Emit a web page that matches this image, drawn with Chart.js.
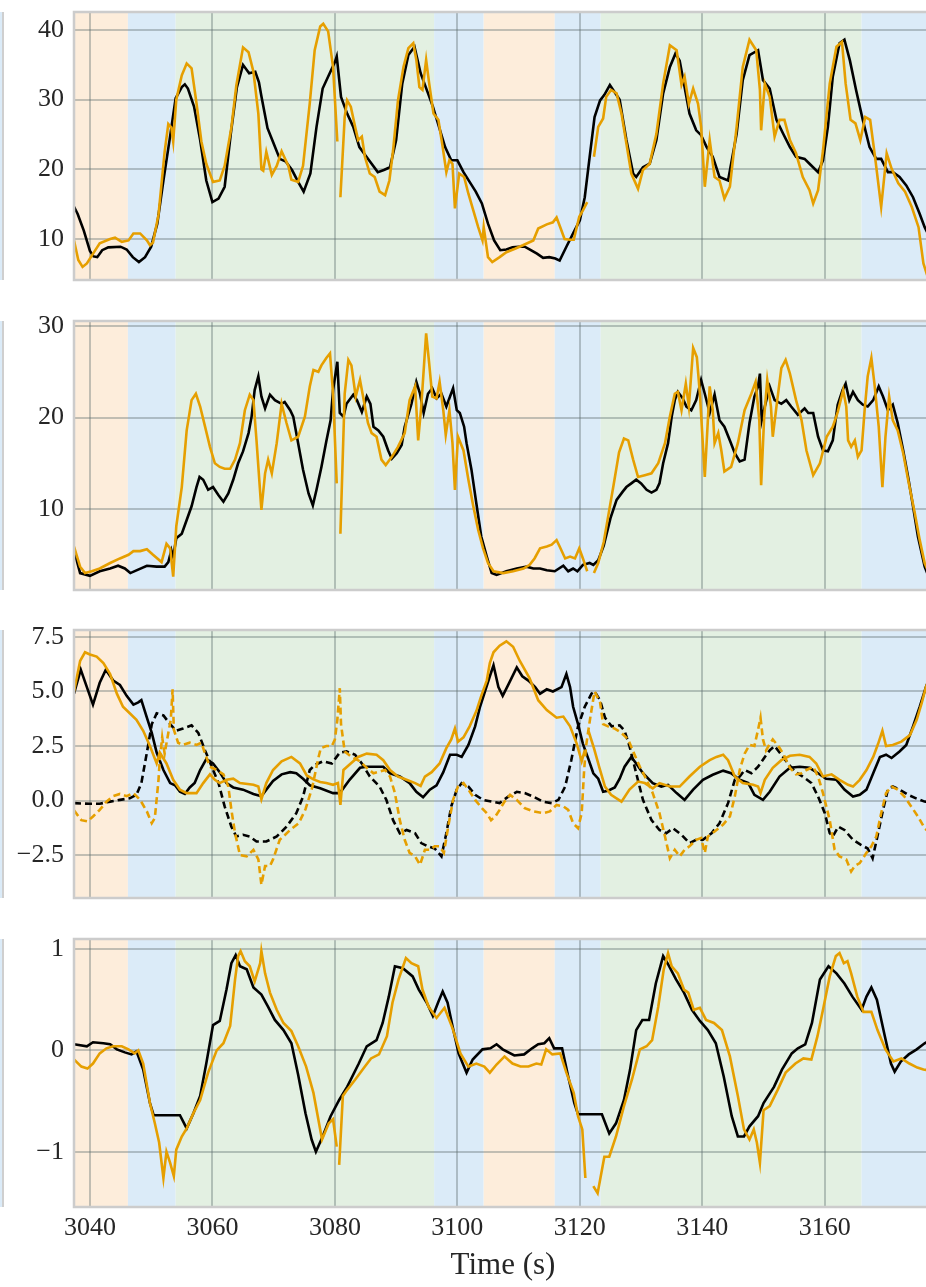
<!DOCTYPE html>
<html>
<head>
<meta charset="utf-8">
<script src="https://cdn.jsdelivr.net/npm/chart.js@4.4.1/dist/chart.umd.min.js"></script>
<style>
  html, body { margin: 0; padding: 0; background: #fff; overflow: hidden; }
  body { width: 926px; height: 1287px; position: relative; }
  canvas { position: absolute; left: 0; }
  .edge { position: absolute; left: 0; width: 2px; background: #dbebf8; border-right: 2px solid #cfcfcf; }
</style>
</head>
<body>
<div class="edge" style="top:12px;height:268px"></div>
<div class="edge" style="top:321px;height:269px"></div>
<div class="edge" style="top:630px;height:268px"></div>
<div class="edge" style="top:939px;height:268px"></div>
<canvas id="c1" width="932" height="291" style="top:-8px"></canvas>
<canvas id="c2" width="932" height="292" style="top:301px"></canvas>
<canvas id="c3" width="932" height="291" style="top:610px"></canvas>
<canvas id="c4" width="932" height="368" style="top:919px"></canvas>
<script>
// shaded phases along the time axis
const bandEdges = [3037.4, 3046.2, 3054.0, 3096.2, 3104.3, 3115.9, 3123.4, 3166.0, 3178];
const bandKinds = ['stand', 'walk', 'run', 'walk', 'stand', 'walk', 'run', 'walk'];
const bandColors = { stand: '#fdeddb', walk: '#dbebf8', run: '#e3f0e2' };

const timeMin = 3037.4, timeMax = 3177.5;
const timeTicks = [3040, 3060, 3080, 3100, 3120, 3140, 3160];
const p1Ticks = [10, 20, 30, 40];
const p2Ticks = [10, 20, 30];
const p3Ticks = [-2.5, 0, 2.5, 5, 7.5];
const p4Ticks = [-1, 0, 1];

// panel 1
const p1RefT = [3037.3,3038,3039,3040,3040.6,3041.2,3042,3043,3045,3046,3047,3048,3049,3050,3051,3052,3053,3054,3055,3055.5,3056,3057,3058,3059,3060,3061,3062,3063,3064,3065,3066,3067,3067.6,3068,3069,3070,3071,3072,3073,3074,3074.9,3076,3077,3078,3079,3080,3080.3,3081,3082,3083,3084,3085,3086,3087,3088,3089,3090,3091,3092,3093,3094,3095,3096,3097,3098,3099,3100,3101,3102,3103,3104,3105,3106,3107,3108,3109,3110,3111,3112,3113,3114,3115,3116,3116.7,3117.8,3118.9,3120,3120.8,3121.6,3122.4,3123.3,3124,3124.9,3126.5,3127.6,3128.7,3129.2,3130.3,3131.4,3132.5,3133.6,3134.7,3135.6,3136.3,3137.1,3137.9,3139,3139.8,3140.7,3141.7,3142.8,3144.2,3145.6,3146.6,3147.7,3149.1,3149.9,3151,3152.1,3153.2,3154.3,3155.3,3156.7,3157.5,3158.9,3159.7,3160.5,3161.3,3162.4,3163.2,3164.1,3165.1,3166.2,3167.3,3168.4,3169.2,3170.3,3171.1,3172.2,3173.3,3174.4,3175.5,3176.3,3177.1];
const p1RefV = [14.8,13.6,11.2,8.3,7.5,7.4,8.4,8.8,8.9,8.5,7.4,6.7,7.4,8.9,12.2,18.4,24.2,30.2,31.8,32.2,31.6,29,24.2,18.4,15.3,15.8,17.5,25.1,31.8,35,33.8,34,32.5,30.5,25.9,23.7,21.5,21.1,19.9,18.2,16.8,19.4,26.1,31.6,33.5,35.4,36.2,30.4,28,26.1,23.2,22,20.8,19.6,19.9,20.3,24.2,32.3,36.4,37.6,33.8,31.4,29,26.1,23.2,21.3,21.3,19.6,18.2,16.8,15.1,12.2,9.8,8.4,8.5,8.8,8.9,8.9,8.4,7.9,7.3,7.4,7.2,6.9,8.9,10.8,12.7,16,21.8,27.5,29.9,30.7,32.1,30,24.2,19.4,18.9,20.3,20.8,24.2,30.9,34.7,36.6,35.6,31.8,28,25.6,24.9,23.2,21.8,18.9,18.4,25.1,32.8,36.4,37.1,32.8,31.6,27.1,25.1,23.2,21.8,21.5,20.8,19.6,21.3,26.1,33.3,38.1,38.6,35.6,31.4,27.1,23.2,21.5,21.5,19.6,19.6,18.9,17.7,16,13.6,11.7,10.3];
const p1EstT = [3037.4,3038.1,3038.8,3039.5,3040.8,3041.6,3043.3,3044.1,3045.2,3046.3,3047.1,3048.2,3049.3,3049.8,3050.3,3051.2,3052.2,3052.8,3053.3,3053.6,3054.1,3055,3055.8,3056.6,3057.4,3058.2,3059,3060.1,3061.2,3062,3063.1,3063.9,3065,3065.9,3066.7,3067.5,3068,3068.3,3068.8,3069.7,3070.5,3071.3,3072.4,3072.9,3074,3074.8,3075.9,3076.7,3077.6,3078.1,3078.9,3079.7,3080.4,3080.6,3080.9,3081.6,3082,3082.6,3083.3,3083.8,3084.4,3084.9,3085.7,3086.5,3087.3,3088.2,3088.9,3089.5,3090.3,3091.2,3092,3092.8,3093.3,3093.8,3094.3,3094.9,3095.4,3096.1,3096.9,3097.6,3098.2,3098.7,3099.2,3099.6,3100.3,3101.1,3101.8,3102.6,3103.4,3104.1,3104.3,3105,3105.7,3106.9,3108,3109.4,3110.7,3112.4,3113.2,3114.6,3115.6,3116.2,3116.8,3117.5,3118.4,3119,3119.9,3120.5,3121.2,3121.7,3122.3,3123,3123.8,3124.3,3125.1,3126,3126.8,3127.6,3128.4,3129.5,3130.3,3131.4,3132.5,3133.6,3134.7,3135.8,3136.6,3137.1,3137.8,3138.5,3139.3,3139.8,3140.4,3141.2,3142,3142.8,3143.6,3144.5,3145.6,3146.6,3147.7,3148.8,3149.4,3149.6,3150.2,3151,3151.8,3152.6,3153.4,3154.3,3155.3,3156.4,3157.5,3158.1,3158.9,3159.7,3160.8,3161.9,3162.8,3163.4,3164.2,3165,3165.8,3166.6,3167.4,3168.2,3169.2,3170.1,3170.9,3172,3173.1,3174.2,3175.3,3176.1,3177];
const p1EstV = [9.8,7,6,6.5,8.3,9.4,10,10.2,9.6,9.8,10.8,10.8,9.8,9.1,9.5,13.5,22.5,26.5,26,24,30,33.5,35.2,34.5,29.5,24,20.8,18.2,18.4,20.5,26,32,37.5,36.8,34,28,20,19.8,22.5,19.2,20.5,22.6,20.5,18.5,18.2,20.5,29.5,37.1,40.5,40.9,39.8,34.7,24,null,16,27.5,29.9,29,26.1,24.2,24.7,21.8,19.4,18.9,16.8,16.3,18.4,22.7,29.9,34.7,37.4,38.1,35.7,31.8,31.4,35.7,32.3,28,27.1,23.2,19.6,21.3,20.8,14.4,19.4,18.9,16.5,14.1,11.7,9.8,11.7,7.4,6.7,7.4,8.1,8.6,9.1,9.8,11.5,12.1,12.4,13.1,11.7,10,9.9,9.9,13.2,14.1,15.3,null,21.8,26.1,27.3,30.4,31.4,30.9,28,23.7,19.4,17.2,19.9,20.8,25.1,32.3,37.8,37.1,32.1,33.3,29.4,31.6,29.4,26.1,17.5,24.2,18.9,18.4,15.8,17.5,26.1,34.7,38.6,37.1,31.4,25.6,32.3,30.4,24.7,27.1,27.1,24.2,22.3,18.9,17,15.1,17,22.7,32.3,37.6,38.3,32.3,27.1,26.6,24.2,27.5,27.1,21.8,14.6,22.3,20.1,18,16.8,14.6,11.7,6.5,4];

// panel 2
const p2RefT = [3037.4,3038.4,3040,3041.6,3043.3,3044.6,3045.7,3046.6,3047.6,3049.3,3050.9,3052.2,3052.8,3053.3,3053.6,3054.1,3055,3055.8,3056.6,3057.4,3057.9,3058.5,3059.3,3060.1,3061,3061.8,3062.6,3063.4,3064.2,3065,3065.9,3066.4,3066.9,3067.5,3068,3068.6,3069.4,3070.2,3071.3,3071.8,3072.7,3073.2,3074,3074.8,3075.7,3076.4,3077,3077.8,3078.6,3079.3,3079.7,3080.4,3080.8,3081.4,3081.9,3083,3083.6,3084.4,3085.2,3085.8,3086.3,3087.1,3087.9,3088.7,3089.3,3090.1,3090.9,3091.4,3092.5,3093.3,3093.9,3094.5,3095.2,3095.9,3096.6,3097.4,3098.2,3098.8,3099.3,3099.9,3100.4,3101.1,3101.5,3102.3,3103.1,3103.9,3104.8,3105.6,3106.4,3108,3109.7,3111.3,3112.4,3113.5,3114.6,3115.9,3117.3,3118.1,3118.9,3119.6,3120.5,3121.6,3122.2,3123,3123.9,3125,3126,3127,3127.6,3128.4,3129.2,3130,3130.9,3131.7,3132.5,3133,3133.6,3134.4,3135,3135.5,3136,3136.8,3137.4,3138.2,3139,3139.8,3140.4,3141.2,3142,3142.8,3143.6,3144.5,3145.3,3146.1,3146.9,3147.7,3148.5,3149.1,3149.4,3149.7,3150.2,3151,3151.8,3152.9,3153.7,3154.5,3155.6,3156.7,3157.3,3158.1,3158.9,3159.7,3160.5,3161.3,3162.1,3162.9,3163.4,3164,3164.6,3165.4,3166.2,3167,3167.9,3168.8,3169.5,3170.3,3171.1,3171.9,3172.8,3173.6,3174.4,3175.2,3176.3,3177];
const p2RefV = [5.5,3,2.7,3.2,3.5,3.8,3.5,3,3.3,3.8,3.7,3.7,4.2,5.5,4.8,6.8,7.3,8.8,10.3,12.4,13.5,13.2,12.1,12.4,11.5,10.8,11.7,13.2,15,16.3,18.3,20.1,23,24.5,22.3,21,22.5,21.9,21.5,21.7,20.8,20.1,17.2,14.3,11.7,10.4,12.1,14.6,17.4,19.7,23,26.1,20.5,20.1,21.5,22.5,21.9,20.6,22.3,21.5,19,18.6,17.9,16.4,15.5,16.1,17,19,21.5,23.9,22.6,20.5,22.6,23.2,22.1,22.6,21.2,22.3,23.2,20.8,20.5,19,17.2,14.3,10.6,7,4.8,3,2.8,3.2,3.5,3.7,3.5,3.5,3.3,3.2,3.8,3.2,3.5,3.2,3.9,4.1,3.9,4.4,6,9,11,11.9,12.4,12.8,13.2,12.8,12.1,11.8,12.1,12.8,15,17.2,20.1,21.9,22.8,22.1,21.2,20.8,21.9,24.1,22.6,20.5,22.5,19.7,19,17.5,16.1,15.2,15.4,19.4,22.3,23.4,24.8,19.7,21.2,23.4,21.9,21.5,21.9,21.2,20.3,21,20.5,20.5,17.9,16.4,16.3,17.5,21.4,23,23.7,21.9,22.8,21.9,21.4,21.2,21.9,23.4,22.3,20.8,21.4,19.4,16.4,13.5,10.3,7,3.7,2.5];
const p2EstT = [3037.4,3038.4,3039.2,3040.3,3041.6,3043.3,3044.9,3046.3,3047.1,3048.2,3049.3,3050.3,3051.7,3052.5,3053.1,3053.6,3054.1,3055,3055.8,3056.6,3057.3,3058,3058.8,3059.6,3060.4,3061.2,3062,3062.9,3063.7,3064.5,3065.3,3066.1,3066.7,3067.2,3068,3068.6,3069.1,3069.7,3070.5,3071.3,3072.1,3072.9,3074,3075.1,3075.9,3076.5,3077.3,3077.8,3078.6,3079.2,3079.7,3080.3,3080.6,3080.9,3081.6,3082.2,3082.7,3083.4,3084.1,3084.6,3085.4,3086,3086.8,3087.6,3088.3,3089.3,3090.3,3091.4,3092.2,3093.1,3093.6,3094.1,3094.9,3095.4,3095.9,3096.6,3097.1,3097.7,3098.1,3098.7,3099.2,3099.6,3100.1,3101,3101.8,3102.6,3103.4,3104.2,3105,3105.9,3107.5,3109.1,3110.8,3111.8,3112.6,3113.5,3114.6,3115.4,3116.2,3116.7,3117.6,3118.4,3119.2,3119.9,3120.5,3121.2,3121.7,3122.3,3123,3123.9,3124.7,3125.5,3126.4,3127.2,3127.9,3128.7,3129.5,3130.6,3131.7,3132.8,3133.9,3134.7,3135.5,3136,3136.6,3137.3,3137.8,3138.5,3139.1,3139.6,3140.4,3141.2,3141.7,3142,3142.6,3143.1,3143.6,3144.7,3145.8,3146.9,3148,3148.7,3149.3,3149.6,3150.1,3150.6,3151.2,3151.5,3152.1,3152.9,3153.6,3154.3,3155.3,3156.2,3157,3158.1,3159.2,3160.3,3161.3,3162.1,3163,3163.5,3163.8,3164.3,3164.9,3165.4,3166,3166.5,3167,3167.6,3168.1,3168.8,3169.4,3169.9,3170.5,3171.1,3171.9,3172.8,3173.6,3174.7,3175.5,3176.3,3177];
const p2EstV = [5.9,3.7,3,3.2,3.5,4.1,4.6,5,5.4,5.4,5.6,5,4.2,6.2,5.7,2.6,8.1,12.4,18.6,21.9,22.6,21.2,19,16.8,15,14.6,14.4,14.4,15.4,17.2,20.8,22.5,21.9,17.5,9.9,13.9,15.4,13.9,17.2,21.5,19.4,17.5,17.9,20.1,23.4,25.2,25,25.7,26.5,27,22.6,12.8,null,7.3,22.6,26.3,25.7,22.3,24.1,22.3,19.4,18.3,17.9,15.4,14.8,15.7,16.8,18.3,21.9,23.4,17.5,21.2,29.2,25.9,22.3,22.1,23.9,20.8,18.1,20.8,17.2,12.1,17.9,16.4,13.2,10.3,7.7,5.7,4.1,3.2,3,3.2,3.5,3.9,4.6,5.7,5.9,6.1,6.6,5.9,4.6,4.8,4.6,5.7,4.6,3.2,null,3,4.1,6.4,9.5,12.6,16.2,17.7,17.5,15.4,13.5,13.7,13.9,15,17.2,20.1,22.6,22.8,20.8,23.7,21.2,27.6,26.6,22.6,13.5,23.4,20.8,17.2,18.3,16.4,14.1,14.6,17.2,20.8,22.6,23.9,19.7,12.6,20.1,24.1,21.2,17.9,21.2,25.4,26.3,24.8,21.9,19.7,16.4,13.7,15,17.9,19,20.6,23,21.2,17.5,16.8,17.5,15.7,16.4,20.8,24.5,26.5,23.7,19,12.4,17.9,22.3,19.7,18.6,16.1,13.2,9.5,6.6,4.1,3];

// panel 3 (solid and dashed pairs)
const p3RefT = [3037.4,3038.5,3039.5,3040.5,3041.6,3042.6,3043.8,3044.9,3046,3047.1,3047.9,3048.4,3049.3,3050.1,3050.9,3052,3053.1,3053.9,3054.7,3055.5,3056.3,3057.1,3058,3059,3060.1,3061.2,3062.3,3063.4,3065,3066.7,3068,3068.8,3069.9,3071.3,3072.7,3073.7,3074.8,3075.9,3077.6,3079.7,3080.8,3082.4,3084.1,3085.2,3087.9,3089,3090.6,3092.2,3093.3,3094.4,3095.5,3096.6,3097.7,3098.8,3099.9,3100.7,3101.8,3102.9,3103.7,3104.5,3105.3,3105.9,3106.7,3107.4,3108.3,3109.7,3110.6,3111.6,3112.7,3113.5,3114.6,3115.6,3117,3117.8,3118.4,3118.9,3119.7,3120.5,3121.4,3122.2,3123,3123.8,3124.6,3125.7,3126.5,3127.3,3128.4,3129.2,3130.3,3131.9,3133.3,3134.4,3135.8,3137.1,3138.5,3140.1,3141.7,3143.4,3144.7,3146.1,3147.5,3148.5,3149.9,3151,3152.6,3154.3,3155.9,3157.5,3158.9,3160.2,3161.9,3163.2,3164.6,3165.7,3166.8,3167.9,3169,3170,3170.9,3172.2,3173.3,3174.4,3175.5,3176.5,3177.2];
const p3RefV = [4.9,6,5.2,4.4,5.4,6,5.5,5.3,4.8,4.4,4.5,4.6,3.8,3.1,2.2,1.4,0.8,0.7,0.4,0.3,0.6,0.8,1.4,1.9,1.7,1.3,0.8,0.6,0.5,0.3,0.2,0.5,0.9,1.2,1.3,1.25,1,0.7,0.56,0.34,0.34,0.95,1.5,1.55,1.55,1.25,1.1,0.8,0.4,0.15,0.5,0.7,1.3,2.1,2.1,2,2.55,3.4,4.3,5,5.7,6.2,5.2,4.8,5.3,6.1,5.7,5.5,5.2,4.9,5.1,5,5.2,5.8,5.2,4.3,3.5,2.6,1.9,1.25,1,0.4,0.45,0.6,1,1.55,2,1.7,1.25,0.8,0.64,0.72,0.34,0.03,0.5,0.95,1.18,1.37,1.25,0.95,0.8,0.26,0.03,0.4,1.1,1.5,1.55,1.5,1.25,1,0.95,0.5,0.18,0.26,0.5,1.25,2,2.1,1.95,2.25,2.55,3.4,4.3,5.2,5.7];
const p3EstT = [3037.4,3038.4,3039.2,3040,3041.1,3042.2,3043.3,3044.4,3045.4,3046.5,3047.6,3048.7,3049.8,3050.9,3051.4,3052.5,3053.6,3054.7,3055.8,3057.4,3058.5,3059.6,3060.4,3061.2,3062.3,3063.4,3064.5,3066.7,3067.5,3068,3068.8,3069.9,3071.3,3072.9,3074.3,3075.4,3076.5,3077.6,3078.6,3079.7,3080.5,3080.9,3081.4,3082.4,3083.8,3085.2,3086.8,3087.9,3089,3090.3,3091.7,3093.1,3094,3094.7,3095.8,3097.1,3098.2,3099,3099.6,3100.1,3101,3102,3103.1,3103.9,3104.8,3105.3,3105.9,3106.9,3108,3109.1,3110.2,3111.8,3113.2,3114.6,3116.2,3117.3,3118.4,3119.5,3120.3,3120.8,3121.1,3121.4,3122.3,3123.2,3124.1,3125.1,3126.8,3128.1,3129.5,3130.6,3131.9,3133,3134.7,3136.3,3137.9,3139.6,3141.2,3142.3,3143.4,3144.2,3145.3,3146.6,3148.3,3149.1,3149.5,3150.2,3151.5,3152.9,3154.3,3155.9,3157.5,3158.6,3159.7,3161.1,3162.4,3163.8,3164.6,3165.7,3166.8,3167.9,3168.7,3169.4,3170,3171.1,3172.5,3173.9,3175,3175.8,3176.5,3177.2];
const p3EstV = [5,6.4,6.8,6.7,6.6,6.3,5.8,4.9,4.3,4,3.7,3.2,2.5,1.7,2.2,1.7,0.95,0.5,0.34,0.34,0.8,1.2,0.95,0.8,0.95,1,0.8,0.72,0.64,0.06,0.8,1.4,1.8,2,1.7,1.15,0.97,0.85,0.8,0.72,0.8,-0.2,1.4,1.65,2,2.15,2.1,1.85,1.4,1.1,0.95,0.8,0.67,1.1,1.3,1.7,2.4,2.8,3.3,2.7,2.9,3.4,4.1,4.8,5.5,6.3,6.8,7.1,7.3,7.05,6.4,5.6,4.6,4.15,3.8,3.85,3.4,2.6,1.8,2.3,null,3.2,2.4,1.5,0.64,0.26,-0.05,0.5,0.87,0.8,0.56,0.8,0.64,0.64,1.1,1.55,1.85,2,2.1,1.85,1.1,0.8,0.72,0.64,0.34,0.95,1.5,1.85,2.05,2.1,2,1.7,1.1,1.2,0.95,0.72,0.64,0.95,1.4,2,2.6,3.2,2.5,2.55,2.7,3,3.7,4.45,5.2,5.7];
const p3RefDashT = [3037.4,3040,3041.6,3043.3,3044.9,3046.5,3047.6,3048.4,3049.3,3050.1,3050.9,3052,3053.1,3054.1,3055.2,3056.6,3057.7,3058.8,3059.9,3061,3062,3063.1,3063.9,3065,3066.1,3067.2,3068.8,3070.5,3072.1,3073.7,3074.8,3075.9,3076.7,3078.1,3079.5,3080.8,3081.9,3083.3,3084.4,3085.7,3087.3,3088.4,3089.5,3090.6,3091.7,3093.1,3094.1,3095.2,3096.3,3097.4,3098.2,3099,3099.9,3100.7,3101.8,3102.9,3104.2,3105.6,3106.9,3108.3,3109.7,3111,3112.4,3114,3115.4,3116.5,3117.6,3118.6,3119.7,3120.8,3121.9,3122.4,3123.3,3124.1,3125.2,3126.5,3127.3,3128.1,3129.2,3130.3,3131.7,3133,3134.1,3135.2,3136.6,3137.9,3139,3140.1,3141.5,3142.8,3144.2,3145.3,3146.1,3146.9,3148,3149.1,3150.2,3151,3151.8,3152.9,3154,3155.1,3156.4,3157.8,3158.9,3160,3160.8,3161.3,3162.2,3163.2,3164.6,3165.9,3167,3167.8,3168.7,3169.5,3170.3,3171.1,3172.2,3173.6,3174.9,3176.3,3177.2];
const p3RefDashV = [-0.12,-0.15,-0.15,-0.05,0.03,0.1,0.26,0.8,2.2,3.5,4,3.9,3.5,3.2,3.3,3.45,3.1,2.3,1.55,0.8,-0.27,-1.2,-1.65,-1.57,-1.65,-1.88,-1.88,-1.65,-1.2,-0.58,0.18,1.4,1.63,1.8,1.7,2.2,2.25,2.1,1.7,1.1,0.64,0.03,-0.9,-1.5,-1.35,-1.5,-1.95,-2.1,-2.2,-2.56,-1.5,-0.27,0.5,0.8,0.64,0.26,0.03,-0.05,-0.12,0.18,0.4,0.34,0.18,-0.05,-0.12,0.03,0.64,1.85,3.4,4.3,4.9,5,4.6,3.8,3.4,3.45,3.2,2.5,1.25,0.03,-0.9,-1.35,-1.5,-1.27,-1.57,-1.95,-1.8,-1.8,-1.5,-1.04,-0.12,0.95,1.1,1.4,1.25,1.55,2,2.3,2.5,2.1,1.7,1.33,1.1,0.8,0.18,-0.58,-1.5,-1.65,-1.2,-1.35,-1.8,-2.03,-2.2,-2.65,-1.5,-0.43,0.5,0.64,0.5,0.26,0.1,-0.05,-0.1];
const p3EstDashT = [3037.4,3038.6,3039.6,3040.5,3041.6,3042.7,3043.8,3044.9,3046,3047.1,3048.2,3049.3,3050.1,3050.6,3051.2,3051.4,3051.8,3052.2,3052.8,3053.2,3053.5,3053.7,3054.4,3055.2,3056.3,3057.4,3058.2,3058.8,3059.6,3060.7,3061.8,3062.6,3063.1,3063.7,3064.5,3065.6,3066.7,3067.5,3068,3068.6,3069.4,3069.9,3071,3072.7,3074.1,3075.2,3076.3,3077.3,3077.7,3078.6,3079.5,3080,3080.4,3080.8,3081,3081.6,3082.7,3084.1,3085.2,3086.3,3087.3,3088.2,3089,3089.8,3090.6,3091.4,3092.2,3093.1,3093.9,3094.7,3095.5,3096.3,3097.1,3097.8,3098.5,3099.3,3100.1,3101,3101.8,3102.9,3104,3104.8,3105.5,3106.2,3106.9,3107.7,3108.6,3109.7,3111,3112.4,3114,3115.1,3116.2,3117.3,3118.1,3118.9,3119.7,3120.3,3120.7,3121,3121.7,3122.4,3123.3,3123.8,3124.6,3125.7,3126.8,3127.9,3128.7,3129.8,3130.9,3131.9,3133,3133.9,3134.7,3135.5,3136.3,3137.1,3137.9,3139,3139.8,3140.4,3140.9,3142,3143.4,3144.5,3145.3,3146.1,3146.9,3147.7,3148.5,3149.1,3149.5,3149.9,3150.4,3151,3151.5,3152.4,3153.2,3154.3,3155.3,3156.2,3157,3158.1,3158.9,3159.7,3160.8,3161.6,3162.4,3163.5,3164.3,3164.9,3165.7,3166.8,3167.6,3168.4,3169.2,3170,3170.9,3171.9,3173,3174.1,3175.2,3176.3,3177.2];
const p3EstDashV = [-0.45,-0.9,-0.96,-0.73,-0.43,-0.05,0.2,0.3,0.2,0.34,0.03,-0.5,-1.04,-0.8,0.95,1.85,2.9,2.15,3.1,3.7,5.1,3.25,2.65,2.55,2.65,2.55,2.65,2.15,1.55,1.4,1.2,0.64,-0.43,-1.5,-2.5,-2.56,-2.26,-2.7,-3.86,-3,-3,-2.7,-1.8,-1.35,-1.04,-0.4,0.6,1.95,2.4,2.5,2.5,2.8,3.7,5.15,3.5,2.25,2,1.8,1.5,1.25,1.33,1.4,1.1,0.34,-0.9,-1.8,-2.4,-2.56,-2.95,-2.26,-2.26,-2.1,-2.1,-2.4,-1.2,0.03,0.64,0.8,0.5,0.03,-0.35,-0.58,-0.9,-0.73,-0.43,-0.05,0.26,0.03,-0.35,-0.5,-0.58,-0.5,-0.2,-0.27,-0.43,-1.04,-1.27,-0.58,1.4,2.47,3.8,5,4.5,3.5,3.4,3.3,3.1,2.8,2.25,1.55,0.95,0.34,-0.58,-1.65,-2.65,-2.26,-2.56,-2.26,-2.1,-1.8,-1.72,-2.4,-1.65,-1.42,-1.1,-0.73,0.18,1.4,2.15,2.55,2.5,3.25,3.8,2.8,2.3,2.6,2.8,2.5,2.15,1.5,1.2,1.25,1.4,1.55,1.1,0.34,-0.9,-2.26,-2.56,-2.7,-3.25,-3,-2.87,-2.4,-2.1,-1.65,-0.58,0.34,0.64,0.5,0.18,-0.27,-0.73,-1.27,-1.5];

// panel 4
const p4RefT = [3037.4,3039.5,3040.5,3042.2,3043.3,3044.4,3045.7,3046.8,3047.6,3048.7,3049.8,3050.4,3054.7,3055.8,3056.9,3058,3059,3060.1,3061.2,3062.3,3063.1,3063.8,3064.5,3065.6,3066.7,3068,3069.1,3070.2,3071.6,3072.9,3074,3075.2,3076.2,3076.9,3078,3079.3,3080.7,3082,3083.9,3085.2,3086.8,3087.8,3088.8,3089.8,3091.1,3092.7,3093.7,3095,3096,3096.9,3097.6,3098.4,3099.2,3100.2,3101.5,3102.5,3104.1,3105.4,3106.4,3107.4,3109.3,3110.9,3112.2,3113.2,3114.2,3115,3115.8,3117.1,3118.1,3119.1,3119.7,3123.6,3124.8,3125.9,3127.2,3128.2,3129.2,3130.2,3131.3,3132.4,3133.6,3134.4,3135.7,3137,3138.3,3139.6,3140.9,3142.2,3143.5,3144.8,3145.8,3146.8,3147.7,3149.1,3150,3151.7,3153,3154.6,3155.6,3156.8,3157.9,3159.2,3160.6,3161.9,3163.2,3164.5,3166,3166.8,3167.6,3168.5,3169.8,3170.8,3171.4,3172.4,3173.7,3175,3176.3,3177.2];
const p4RefV = [0.06,0.04,0.08,0.07,0.06,0.01,-0.02,-0.04,-0.01,-0.19,-0.52,-0.64,-0.64,-0.77,-0.62,-0.45,-0.13,0.25,0.29,0.6,0.86,0.94,0.83,0.8,0.62,0.55,0.43,0.3,0.2,0.07,-0.24,-0.62,-0.88,-1,-0.85,-0.65,-0.49,-0.36,-0.13,0.04,0.1,0.27,0.53,0.83,0.81,0.73,0.6,0.47,0.34,0.48,0.58,0.47,0.24,-0.03,-0.22,-0.09,0.01,0.02,0.06,0.01,-0.05,-0.04,0.02,0.06,0.07,0.12,0.02,0.02,-0.26,-0.52,-0.63,-0.63,-0.82,-0.72,-0.49,-0.19,0.2,0.3,0.3,0.66,0.93,0.85,0.7,0.57,0.4,0.29,0.2,0.07,-0.26,-0.65,-0.85,-0.85,-0.75,-0.65,-0.52,-0.36,-0.19,-0.03,0.02,0.06,0.27,0.7,0.83,0.76,0.66,0.53,0.4,0.53,0.62,0.5,0.14,-0.13,-0.21,-0.11,-0.04,0.01,0.07,0.1];
const p4EstT = [3037.4,3038.6,3039.6,3040.5,3041.6,3042.7,3043.8,3045.2,3046.3,3047.3,3047.9,3048.7,3049.8,3050.6,3051.3,3052,3052.5,3053.1,3053.7,3054.1,3055,3055.8,3056.9,3058,3059.3,3060.7,3061.8,3062.9,3063.7,3064.2,3064.6,3065.3,3066.1,3066.9,3067.8,3068,3068.6,3069.4,3070.5,3071.6,3072.9,3074,3075.3,3076.5,3077.9,3079,3079.7,3080.3,3080.5,3080.7,3081.3,3082,3083.3,3084.9,3085.9,3087.2,3088.5,3089.4,3090.4,3091.6,3092.5,3093.6,3094.3,3095.3,3096.6,3097.9,3099.2,3100.5,3101.8,3103.1,3104.4,3105.3,3106.4,3107.7,3109,3110.3,3111.6,3112.9,3113.7,3114.5,3115.5,3116.8,3117.8,3119,3119.7,3120.4,3120.9,3121.5,3122.2,3122.9,3123.3,3124,3124.8,3125.9,3127.2,3128.5,3129.8,3130.9,3131.8,3132.8,3133.7,3134.4,3135,3136,3137,3137.7,3138.6,3139.6,3140.6,3141.9,3143.2,3144.5,3145.8,3146.8,3147.7,3148.4,3148.9,3149.4,3150,3151,3152.3,3153.6,3155.2,3156.5,3157.8,3158.8,3159.8,3160.8,3161.8,3162.4,3163.1,3163.7,3164.3,3165.3,3166.3,3167.6,3168.6,3169.9,3171.2,3172.5,3173.8,3175.1,3176.1,3177.2];
const p4EstV = [-0.09,-0.16,-0.18,-0.13,-0.03,0.02,0.04,0.04,0.01,-0.03,0,-0.13,-0.52,-0.72,-0.91,-1.26,-1,-1.11,-1.24,-0.98,-0.85,-0.77,-0.62,-0.49,-0.22,0,0.07,0.24,0.7,0.93,0.98,0.88,0.83,0.68,0.86,0.98,0.76,0.57,0.4,0.27,0.19,0.04,-0.16,-0.42,-0.88,-0.72,-0.68,-0.95,null,-1.13,-0.45,-0.39,-0.29,-0.16,-0.08,-0.04,0.14,0.47,0.7,0.91,0.86,0.83,0.6,0.43,0.32,0.42,0.22,-0.03,-0.16,-0.13,-0.16,-0.22,-0.14,-0.06,-0.13,-0.16,-0.16,-0.13,-0.14,0.01,-0.04,-0.03,-0.22,-0.42,-0.65,-0.78,-1.26,null,-1.34,-1.41,-1.28,-1.05,-1.05,-0.85,-0.55,-0.29,0.01,0.04,0.1,0.43,0.8,0.96,0.83,0.76,0.6,0.57,0.4,0.42,0.3,0.27,0.2,-0.06,-0.45,-0.78,-0.88,-0.78,-0.91,-1.11,-0.59,-0.55,-0.39,-0.22,-0.13,-0.08,-0.09,0.14,0.43,0.73,0.93,0.96,0.86,0.88,0.76,0.53,0.38,0.38,0.2,0.01,-0.11,-0.08,-0.13,-0.17,-0.19,-0.2];

const BLACK = '#000000';
const ORANGE = '#e69f00';
const tickFont = { family: "'Liberation Serif', 'DejaVu Serif', serif", size: 26 };
const gridColor = 'rgba(95,110,110,0.38)';
const padTop = 20;

function pts(t, v) {
  return t.map((x, i) => ({ x: x, y: v[i] }));
}

function uminus(s) {
  return s.replace('-', '\u2212');
}

const bandsPlugin = {
  id: 'bands',
  beforeDraw(chart) {
    const { ctx, chartArea, scales } = chart;
    ctx.save();
    for (let i = 0; i < bandKinds.length; i++) {
      const x0 = scales.x.getPixelForValue(bandEdges[i]);
      const x1 = scales.x.getPixelForValue(bandEdges[i + 1]);
      ctx.fillStyle = bandColors[bandKinds[i]];
      ctx.fillRect(x0, chartArea.top, x1 - x0, chartArea.bottom - chartArea.top);
    }
    ctx.restore();
  }
};

const framePlugin = {
  id: 'frame',
  afterDraw(chart) {
    const { ctx, chartArea } = chart;
    ctx.save();
    ctx.strokeStyle = '#cccccc';
    ctx.lineWidth = 2.5;
    ctx.strokeRect(chartArea.left, chartArea.top, chartArea.right - chartArea.left, chartArea.bottom - chartArea.top);
    ctx.restore();
  }
};

// use the given tick values instead of the generated ones
function fixedTicks(values) {
  return function (scale) {
    scale.ticks = values.map(v => ({ value: v }));
  };
}

function makePanel(id, yMin, yMax, yTicks, yFmt, series, bottom) {
  const datasets = series.map(s => ({
    data: pts(s.t, s.v),
    borderColor: s.color,
    borderWidth: 2.6,
    borderDash: s.dash ? [7, 4] : [],
    pointRadius: 0,
    tension: 0,
    spanGaps: false,
    fill: false
  }));
  new Chart(document.getElementById(id), {
    type: 'line',
    data: { datasets: datasets },
    plugins: [bandsPlugin, framePlugin],
    options: {
      responsive: false,
      animation: false,
      events: [],
      layout: { padding: { top: padTop, bottom: bottom ? 0 : 3, left: 0, right: 0 } },
      plugins: { legend: { display: false }, tooltip: { enabled: false } },
      scales: {
        x: {
          type: 'linear',
          min: timeMin,
          max: timeMax,
          afterBuildTicks: fixedTicks(timeTicks),
          afterFit(scale) {
            scale.height = bottom ? 80 : 0;
            scale.paddingLeft = 0;
            scale.paddingRight = 0;
          },
          grid: { color: gridColor, lineWidth: 2, drawTicks: false },
          border: { display: false },
          ticks: {
            display: bottom,
            padding: 6,
            maxRotation: 0,
            autoSkip: false,
            color: '#262626',
            font: tickFont,
            callback: v => String(v)
          },
          title: {
            display: bottom,
            text: 'Time (s)',
            color: '#262626',
            font: { family: tickFont.family, size: 31 },
            padding: { top: 0, bottom: 3 }
          }
        },
        y: {
          min: yMin,
          max: yMax,
          afterBuildTicks: fixedTicks(yTicks),
          afterFit(scale) {
            scale.width = 74;
            scale.paddingTop = 0;
            scale.paddingBottom = 0;
          },
          grid: { color: gridColor, lineWidth: 2, drawTicks: false },
          border: { display: false },
          ticks: {
            padding: 10,
            autoSkip: false,
            color: '#262626',
            font: tickFont,
            callback: v => uminus(yFmt(v))
          }
        }
      }
    }
  });
}

const intFmt = v => String(Math.round(v));
const oneFmt = v => v.toFixed(1);

makePanel('c1', 4.12, 42.58, p1Ticks, intFmt, [
  { t: p1EstT, v: p1EstV, color: ORANGE },
  { t: p1RefT, v: p1RefV, color: BLACK }
], false);

makePanel('c2', 1.15, 30.55, p2Ticks, intFmt, [
  { t: p2EstT, v: p2EstV, color: ORANGE },
  { t: p2RefT, v: p2RefV, color: BLACK }
], false);

makePanel('c3', -4.47, 7.82, p3Ticks, oneFmt, [
  { t: p3EstT, v: p3EstV, color: ORANGE },
  { t: p3EstDashT, v: p3EstDashV, color: ORANGE, dash: true },
  { t: p3RefT, v: p3RefV, color: BLACK },
  { t: p3RefDashT, v: p3RefDashV, color: BLACK, dash: true }
], false);

makePanel('c4', -1.546, 1.099, p4Ticks, intFmt, [
  { t: p4EstT, v: p4EstV, color: ORANGE },
  { t: p4RefT, v: p4RefV, color: BLACK }
], true);
</script>
</body>
</html>
